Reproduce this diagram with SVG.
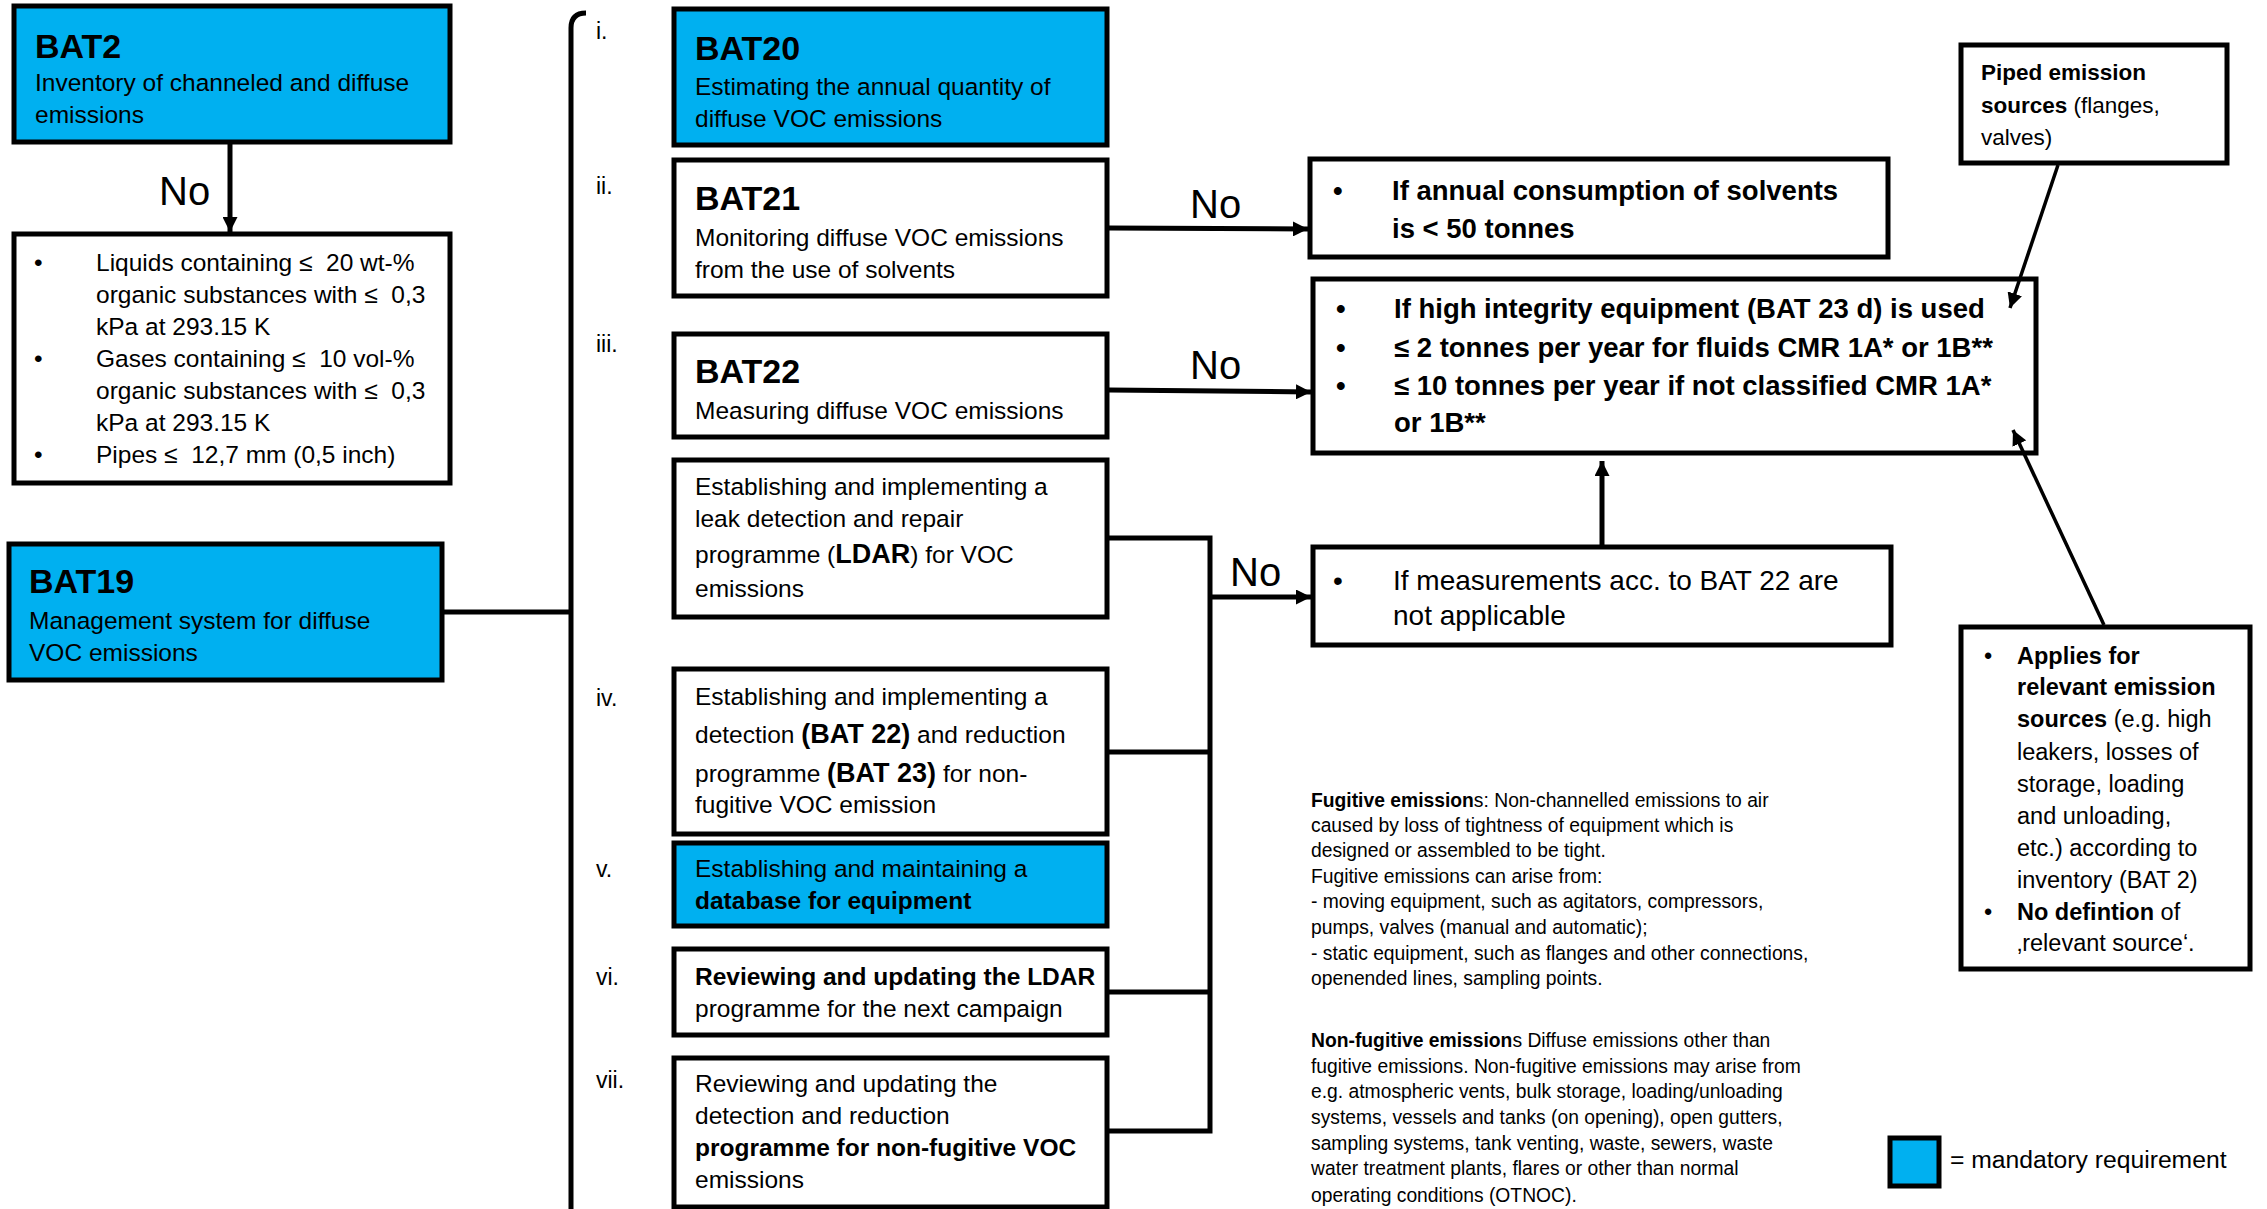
<svg xmlns="http://www.w3.org/2000/svg" width="2267" height="1209" viewBox="0 0 2267 1209">
<defs>
<style>
text{font-family:"Liberation Sans",Arial,sans-serif;fill:#000;white-space:pre}
.box{fill:#fff;stroke:#000;stroke-width:5}
.blue{fill:#00B0F0;stroke:#000;stroke-width:5}
.t{font-size:34px;font-weight:bold}
.b{font-size:24.5px}
.rn{font-size:23px}
.no{font-size:40px}
.r{font-size:27.5px;font-weight:bold}
.m{font-size:28px}
.p{font-size:22.5px}
.a{font-size:23.5px}
.lgd{font-size:24.7px}
.f{font-size:19.3px}
.bold{font-weight:bold}
.lg{font-size:27px;font-weight:bold}
.ln{fill:none;stroke:#000;stroke-width:5}
.thin{fill:none;stroke:#000;stroke-width:3.5}
</style>
<marker id="ah" viewBox="0 0 10 10" refX="10" refY="5" markerUnits="userSpaceOnUse" markerWidth="15" markerHeight="15" orient="auto">
<path d="M0,0 L10,5 L0,10 z" fill="#000"/>
</marker>
</defs>

<g id="bat2">
<rect class="blue" x="14" y="6" width="436" height="136"/>
<text class="t" x="35" y="58">BAT2</text>
<text class="b" x="35" y="91">Inventory of channeled and diffuse</text>
<text class="b" x="35" y="123">emissions</text>
</g>

<g id="bat2-exceptions">
<rect class="box" x="14" y="234" width="436" height="249"/>
<text class="b" x="34" y="271">•</text>
<text class="b" x="96" y="271">Liquids containing ≤  20 wt-%</text>
<text class="b" x="96" y="303">organic substances with ≤  0,3</text>
<text class="b" x="96" y="335">kPa at 293.15 K</text>
<text class="b" x="34" y="367">•</text>
<text class="b" x="96" y="367">Gases containing ≤  10 vol-%</text>
<text class="b" x="96" y="399">organic substances with ≤  0,3</text>
<text class="b" x="96" y="431">kPa at 293.15 K</text>
<text class="b" x="34" y="463">•</text>
<text class="b" x="96" y="463">Pipes ≤  12,7 mm (0,5 inch)</text>
</g>

<g id="bat19">
<rect class="blue" x="9" y="544" width="433" height="136"/>
<text class="t" x="29" y="593">BAT19</text>
<text class="b" x="29" y="629">Management system for diffuse</text>
<text class="b" x="29" y="661">VOC emissions</text>
</g>

<g id="numerals">
<text class="rn" x="596" y="39">i.</text>
<text class="rn" x="596" y="194">ii.</text>
<text class="rn" x="596" y="352">iii.</text>
<text class="rn" x="596" y="706">iv.</text>
<text class="rn" x="596" y="877">v.</text>
<text class="rn" x="596" y="985">vi.</text>
<text class="rn" x="596" y="1088">vii.</text>
</g>

<g id="bat20">
<rect class="blue" x="674" y="9" width="433" height="136"/>
<text class="t" x="695" y="60">BAT20</text>
<text class="b" x="695" y="95">Estimating the annual quantity of</text>
<text class="b" x="695" y="127">diffuse VOC emissions</text>
</g>

<g id="bat21">
<rect class="box" x="674" y="160" width="433" height="136"/>
<text class="t" x="695" y="210">BAT21</text>
<text class="b" x="695" y="246">Monitoring diffuse VOC emissions</text>
<text class="b" x="695" y="278">from the use of solvents</text>
</g>

<g id="bat22">
<rect class="box" x="674" y="334" width="433" height="103"/>
<text class="t" x="695" y="383">BAT22</text>
<text class="b" x="695" y="419">Measuring diffuse VOC emissions</text>
</g>

<g id="ldar">
<rect class="box" x="674" y="460" width="433" height="157"/>
<text class="b" x="695" y="495">Establishing and implementing a</text>
<text class="b" x="695" y="527">leak detection and repair</text>
<text class="b" x="695" y="563">programme (<tspan class="lg">LDAR</tspan>) for VOC</text>
<text class="b" x="695" y="597">emissions</text>
</g>

<g id="detection">
<rect class="box" x="674" y="669" width="433" height="165"/>
<text class="b" x="695" y="705">Establishing and implementing a</text>
<text class="b" x="695" y="743">detection <tspan class="lg">(BAT 22)</tspan> and reduction</text>
<text class="b" x="695" y="782">programme <tspan class="lg">(BAT 23)</tspan> for non-</text>
<text class="b" x="695" y="813">fugitive VOC emission</text>
</g>

<g id="database">
<rect class="blue" x="674" y="843" width="433" height="83"/>
<text class="b" x="695" y="877">Establishing and maintaining a</text>
<text class="b bold" x="695" y="909">database for equipment</text>
</g>

<g id="review-ldar">
<rect class="box" x="674" y="949" width="433" height="86"/>
<text class="b bold" x="695" y="985">Reviewing and updating the LDAR</text>
<text class="b" x="695" y="1017">programme for the next campaign</text>
</g>

<g id="review-detection">
<rect class="box" x="674" y="1058" width="433" height="149"/>
<text class="b" x="695" y="1092">Reviewing and updating the</text>
<text class="b" x="695" y="1124">detection and reduction</text>
<text class="b bold" x="695" y="1156">programme for non-fugitive VOC</text>
<text class="b" x="695" y="1188">emissions</text>
</g>

<g id="solvents">
<rect class="box" x="1310" y="159" width="578" height="98"/>
<text class="r" x="1333" y="200">•</text>
<text class="r" x="1392" y="200">If annual consumption of solvents</text>
<text class="r" x="1392" y="238">is &lt; 50 tonnes</text>
</g>

<g id="high-integrity">
<rect class="box" x="1313" y="279" width="723" height="174"/>
<text class="r" x="1336" y="318">•</text>
<text class="r" x="1394" y="318">If high integrity equipment (BAT 23 d) is used</text>
<text class="r" x="1336" y="357">•</text>
<text class="r" x="1394" y="357">≤ 2 tonnes per year for fluids CMR 1A* or 1B**</text>
<text class="r" x="1336" y="395">•</text>
<text class="r" x="1394" y="395">≤ 10 tonnes per year if not classified CMR 1A*</text>
<text class="r" x="1394" y="432">or 1B**</text>
</g>

<g id="measurements">
<rect class="box" x="1313" y="547" width="578" height="98"/>
<text class="m" x="1333" y="590">•</text>
<text class="m" x="1393" y="590">If measurements acc. to BAT 22 are</text>
<text class="m" x="1393" y="625">not applicable</text>
</g>

<g id="piped">
<rect class="box" x="1961" y="45" width="266" height="118"/>
<text class="p bold" x="1981" y="80">Piped emission</text>
<text class="p" x="1981" y="113"><tspan class="bold">sources</tspan> (flanges,</text>
<text class="p" x="1981" y="145">valves)</text>
</g>

<g id="applies">
<rect class="box" x="1961" y="627" width="289" height="342"/>
<text class="a" x="1984" y="664">•</text>
<text class="a bold" x="2017" y="664">Applies for</text>
<text class="a bold" x="2017" y="695">relevant emission</text>
<text class="a" x="2017" y="727"><tspan class="bold">sources</tspan> (e.g. high</text>
<text class="a" x="2017" y="760">leakers, losses of</text>
<text class="a" x="2017" y="792">storage, loading</text>
<text class="a" x="2017" y="824">and unloading,</text>
<text class="a" x="2017" y="856">etc.) according to</text>
<text class="a" x="2017" y="888">inventory (BAT 2)</text>
<text class="a" x="1984" y="920">•</text>
<text class="a" x="2017" y="920"><tspan class="bold">No defintion</tspan> of</text>
<text class="a" x="2017" y="951">‚relevant source‘.</text>
</g>

<g id="definitions">
<text class="f" x="1311" y="807"><tspan class="bold">Fugitive emission</tspan>s: Non-channelled emissions to air</text>
<text class="f" x="1311" y="832">caused by loss of tightness of equipment which is</text>
<text class="f" x="1311" y="857">designed or assembled to be tight.</text>
<text class="f" x="1311" y="883">Fugitive emissions can arise from:</text>
<text class="f" x="1311" y="908">- moving equipment, such as agitators, compressors,</text>
<text class="f" x="1311" y="934">pumps, valves (manual and automatic);</text>
<text class="f" x="1311" y="960">- static equipment, such as flanges and other connections,</text>
<text class="f" x="1311" y="985">openended lines, sampling points.</text>
<text class="f" x="1311" y="1047"><tspan class="bold">Non-fugitive emission</tspan>s Diffuse emissions other than</text>
<text class="f" x="1311" y="1073">fugitive emissions. Non-fugitive emissions may arise from</text>
<text class="f" x="1311" y="1098">e.g. atmospheric vents, bulk storage, loading/unloading</text>
<text class="f" x="1311" y="1124">systems, vessels and tanks (on opening), open gutters,</text>
<text class="f" x="1311" y="1150">sampling systems, tank venting, waste, sewers, waste</text>
<text class="f" x="1311" y="1175">water treatment plants, flares or other than normal</text>
<text class="f" x="1311" y="1202">operating conditions (OTNOC).</text>
</g>

<g id="legend">
<rect class="blue" x="1890" y="1138" width="49" height="48"/>
<text class="lgd" x="1950" y="1168">= mandatory requirement</text>
</g>

<g id="connectors">
<path class="ln" d="M230,144 L230,232" marker-end="url(#ah)"/>
<path class="ln" d="M444,612 L571,612"/>
<path class="ln" d="M586,13 Q571,13 571,28 L571,1212"/>
<path class="ln" d="M1109,228 L1308,229" marker-end="url(#ah)"/>
<path class="ln" d="M1109,390 L1311,392" marker-end="url(#ah)"/>
<path class="ln" d="M1109,538 L1210,538 L1210,1131 L1109,1131"/>
<path class="ln" d="M1109,752 L1210,752"/>
<path class="ln" d="M1109,992 L1210,992"/>
<path class="ln" d="M1210,597 L1311,597" marker-end="url(#ah)"/>
<path class="ln" d="M1602,545 L1602,461" marker-end="url(#ah)"/>
<path class="thin" d="M2058,165 L2010,308" marker-end="url(#ah)"/>
<path class="thin" d="M2104,625 L2013,430" marker-end="url(#ah)"/>
<text class="no" x="159" y="205">No</text>
<text class="no" x="1190" y="218">No</text>
<text class="no" x="1190" y="379">No</text>
<text class="no" x="1230" y="586">No</text>
</g>
</svg>
